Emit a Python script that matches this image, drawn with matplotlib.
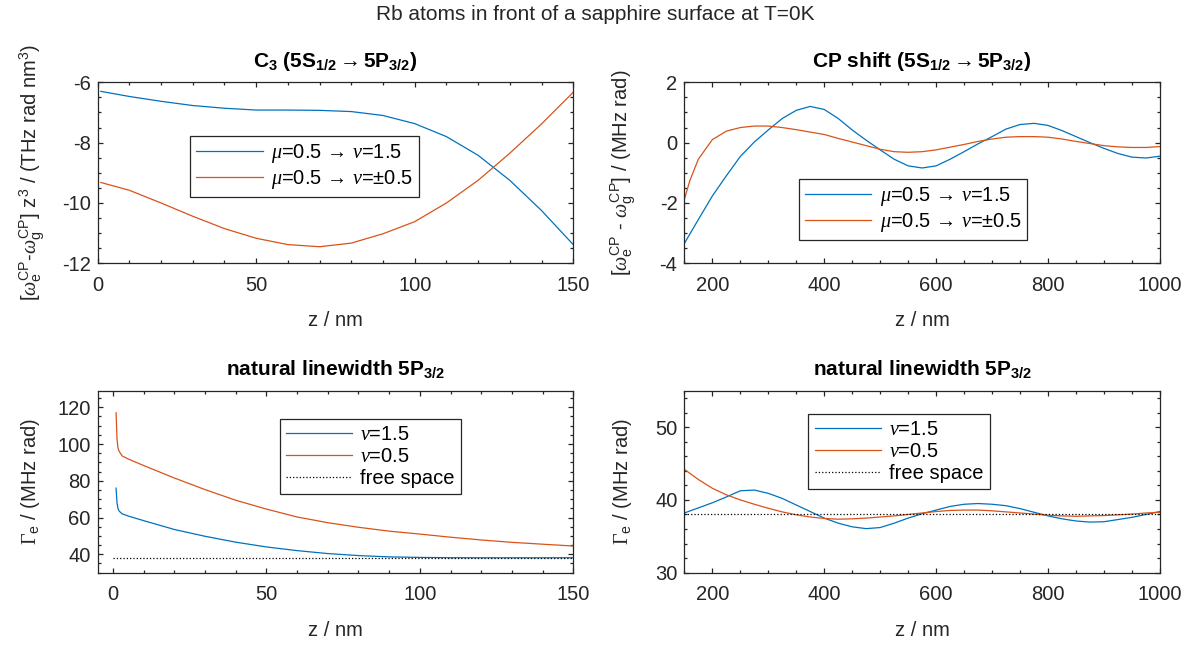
import numpy as np
import matplotlib
matplotlib.use('Agg')
import matplotlib.pyplot as plt
from matplotlib.ticker import MultipleLocator

plt.rcParams['font.family'] = ['Liberation Sans', 'DejaVu Sans']
plt.rcParams['mathtext.fontset'] = 'custom'
plt.rcParams['mathtext.rm'] = 'Liberation Sans'
plt.rcParams['mathtext.it'] = 'Liberation Serif:italic'
plt.rcParams['mathtext.bf'] = 'Liberation Sans:bold'
plt.rcParams['mathtext.sf'] = 'Liberation Serif'
plt.rcParams['axes.unicode_minus'] = False

# C3 coefficient, near field (z in nm)
z_c3 = [1, 10, 20, 30, 40, 50, 60, 70, 80, 90, 100, 110, 120, 130, 140, 150]
c3_15 = [-6.30, -6.47, -6.63, -6.77, -6.86, -6.92, -6.92, -6.93, -6.97, -7.10,
         -7.37, -7.80, -8.42, -9.25, -10.25, -11.38]
c3_05 = [-9.32, -9.58, -10.0, -10.44, -10.85, -11.17, -11.38, -11.45, -11.33, -11.02,
         -10.62, -10.0, -9.25, -8.35, -7.38, -6.33]

# CP shift, far field
z_far = [150, 175, 200, 225, 250, 275, 300, 325, 350, 375, 400, 425, 450, 475, 500,
         525, 550, 575, 600, 625, 650, 675, 700, 725, 750, 775, 800, 825, 850, 875,
         900, 925, 950, 975, 1000]
cp_15 = [-3.34, -2.55, -1.77, -1.10, -0.46, 0.02, 0.42, 0.80, 1.07, 1.20, 1.10, 0.80,
         0.42, 0.08, -0.24, -0.55, -0.77, -0.84, -0.77, -0.55, -0.30, -0.04, 0.20,
         0.45, 0.60, 0.64, 0.57, 0.40, 0.20, 0.0, -0.19, -0.36, -0.48, -0.51, -0.45]
z_cp05 = [150, 160, 175, 200, 225, 250, 275, 300, 325, 350, 375, 400, 425, 450, 475,
          500, 525, 550, 575, 600, 625, 650, 675, 700, 725, 750, 775, 800, 825, 850,
          875, 900, 925, 950, 975, 1000]
cp_05 = [-1.88, -1.25, -0.55, 0.10, 0.38, 0.50, 0.55, 0.55, 0.50, 0.43, 0.35, 0.27,
         0.14, 0.02, -0.10, -0.22, -0.30, -0.32, -0.30, -0.24, -0.15, -0.06, 0.04,
         0.12, 0.18, 0.20, 0.20, 0.18, 0.12, 0.04, -0.03, -0.10, -0.14, -0.16, -0.16,
         -0.13]

# linewidth near field
z_gn = [1, 1.3, 1.6, 2, 3, 5, 10, 20, 30, 40, 50, 60, 70, 80, 90, 100, 110, 120,
        130, 140, 150]
gn_15 = [76, 68, 65, 63.5, 62, 60.8, 58.3, 53.5, 49.8, 46.6, 44.0, 42.0, 40.4, 39.3,
         38.6, 38.3, 38.15, 38.1, 38.1, 38.1, 38.15]
gn_05 = [117, 103, 98, 96, 93.5, 91.8, 88.3, 81.5, 75.2, 69.4, 64.6, 60.3, 57.2, 54.7,
         52.6, 51.0, 49.3, 47.8, 46.5, 45.5, 44.5]

# linewidth far field
gf_15 = [38.2, 38.9, 39.6, 40.4, 41.25, 41.35, 40.9, 40.2, 39.3, 38.4, 37.5, 36.8,
         36.3, 36.05, 36.2, 36.8, 37.5, 38.1, 38.6, 39.1, 39.4, 39.5, 39.4, 39.2, 38.8,
         38.3, 37.8, 37.4, 37.1, 36.95, 37.0, 37.3, 37.6, 38.0, 38.4]
gf_05 = [44.2, 42.8, 41.6, 40.7, 40.0, 39.4, 38.85, 38.35, 37.95, 37.65, 37.45, 37.35,
         37.4, 37.5, 37.65, 37.8, 38.0, 38.2, 38.4, 38.55, 38.6, 38.6, 38.5, 38.35,
         38.2, 38.05, 37.9, 37.8, 37.75, 37.8, 37.85, 37.95, 38.05, 38.2, 38.3]

gamma0 = 38.1
z_free_near = [0, 150]
z_free_far = [150, 1000]

blue = '#0072BD'
orange = '#D95319'
axc = '#262626'
fs = 14.5

lab_mu15 = '$\\mu$=0.5 \u2192 $\\nu$=1.5'
lab_mu05 = '$\\mu$=0.5 \u2192 $\\nu$=$\\pm$0.5'

fig = plt.figure(figsize=(11.91, 6.46), dpi=100)
ax1 = fig.add_axes([0.0820, 0.5924, 0.3993, 0.2802])
ax2 = fig.add_axes([0.5746, 0.5924, 0.3993, 0.2802])
ax3 = fig.add_axes([0.0820, 0.1135, 0.3993, 0.2817])
ax4 = fig.add_axes([0.5746, 0.1135, 0.3993, 0.2817])


def style(ax, xmaj, xmin, ymaj, ymin):
    for s in ax.spines.values():
        s.set_color(axc)
        s.set_linewidth(0.9)
    ax.xaxis.set_major_locator(MultipleLocator(xmaj))
    ax.xaxis.set_minor_locator(MultipleLocator(xmin))
    ax.yaxis.set_major_locator(MultipleLocator(ymaj))
    ax.yaxis.set_minor_locator(MultipleLocator(ymin))
    ax.tick_params(which='both', direction='in', top=True, right=True,
                   colors=axc, labelsize=fs, width=0.9)
    ax.tick_params(which='major', length=3.6, pad=9)
    ax.tick_params(which='minor', length=2.0)
    ax.tick_params(axis='y', which='major', pad=5)
    ax.set_xlabel('z / nm', fontsize=fs, color=axc, labelpad=12)


def leg(ax, x, y):
    lg = ax.legend(loc='lower left', bbox_to_anchor=(x, y), borderaxespad=0,
                   fancybox=False, framealpha=1, edgecolor=axc, fontsize=fs,
                   handlelength=3.3, labelspacing=0.15, borderpad=0.3,
                   handletextpad=0.4)
    lg.get_frame().set_linewidth(0.9)
    return lg


# top left
ax1.plot(z_c3, c3_15, color=blue, lw=0.9, label=lab_mu15)
ax1.plot(z_c3, c3_05, color=orange, lw=0.9, label=lab_mu05)
ax1.set_xlim(0, 150)
ax1.set_ylim(-12, -6)
style(ax1, 50, 10, 2, 0.5)
ax1.set_title(r'C$_\mathbf{3}$ (5S$_\mathbf{1/2}$$\rightarrow$5P$_\mathbf{3/2}$)',
              fontsize=15, fontweight='bold', pad=11)
ax1.set_ylabel(r'$[\omega_\mathrm{e}^\mathrm{CP}$-$\omega_\mathrm{g}^\mathrm{CP}]$ z$^3$ / (THz rad nm$^3$)',
               fontsize=fs, color=axc)
ax1.yaxis.set_label_coords(-0.107, 0.5)
leg(ax1, 0.195, 0.366)

# top right
ax2.plot(z_far, cp_15, color=blue, lw=0.9, label=lab_mu15)
ax2.plot(z_cp05, cp_05, color=orange, lw=0.9, label=lab_mu05)
ax2.set_xlim(150, 1000)
ax2.set_ylim(-4, 2)
style(ax2, 200, 50, 2, 0.5)
ax2.set_title(r'CP shift (5S$_\mathbf{1/2}$$\rightarrow$5P$_\mathbf{3/2}$)',
              fontsize=15, fontweight='bold', pad=11)
ax2.set_ylabel(r'$[\omega_\mathrm{e}^\mathrm{CP}$ - $\omega_\mathrm{g}^\mathrm{CP}]$ / (MHz rad)',
               fontsize=fs, color=axc)
ax2.yaxis.set_label_coords(-0.097, 0.5)
leg(ax2, 0.241, 0.129)

# bottom left
ax3.plot(z_gn, gn_15, color=blue, lw=0.9, label=r'$\nu$=1.5')
ax3.plot(z_gn, gn_05, color=orange, lw=0.9, label=r'$\nu$=0.5')
ax3.plot(z_free_near, [gamma0, gamma0], color='k', lw=0.9, ls=':', label='free space')
ax3.set_xlim(-5, 150)
ax3.set_ylim(30, 129)
style(ax3, 50, 10, 20, 5)
ax3.set_title(r'natural linewidth 5P$_\mathbf{3/2}$', fontsize=15, fontweight='bold', pad=11)
ax3.set_ylabel(r'$\mathsf{\Gamma}_\mathrm{e}$ / (MHz rad)', fontsize=fs, color=axc)
ax3.yaxis.set_label_coords(-0.117, 0.5)
leg(ax3, 0.383, 0.432)

# bottom right
ax4.plot(z_far, gf_15, color=blue, lw=0.9, label=r'$\nu$=1.5')
ax4.plot(z_far, gf_05, color=orange, lw=0.9, label=r'$\nu$=0.5')
ax4.plot(z_free_far, [gamma0, gamma0], color='k', lw=0.9, ls=':', label='free space')
ax4.set_xlim(150, 1000)
ax4.set_ylim(30, 55)
style(ax4, 200, 50, 10, 2)
ax4.set_title(r'natural linewidth 5P$_\mathbf{3/2}$', fontsize=15, fontweight='bold', pad=11)
ax4.set_ylabel(r'$\mathsf{\Gamma}_\mathrm{e}$ / (MHz rad)', fontsize=fs, color=axc)
ax4.yaxis.set_label_coords(-0.106, 0.5)
leg(ax4, 0.261, 0.458)

fig.text(0.5, 1 - 14 / 646, 'Rb atoms in front of a sapphire surface at T=0K',
         ha='center', va='center', fontsize=15, color=axc)

fig.savefig('out.png', dpi=100)
